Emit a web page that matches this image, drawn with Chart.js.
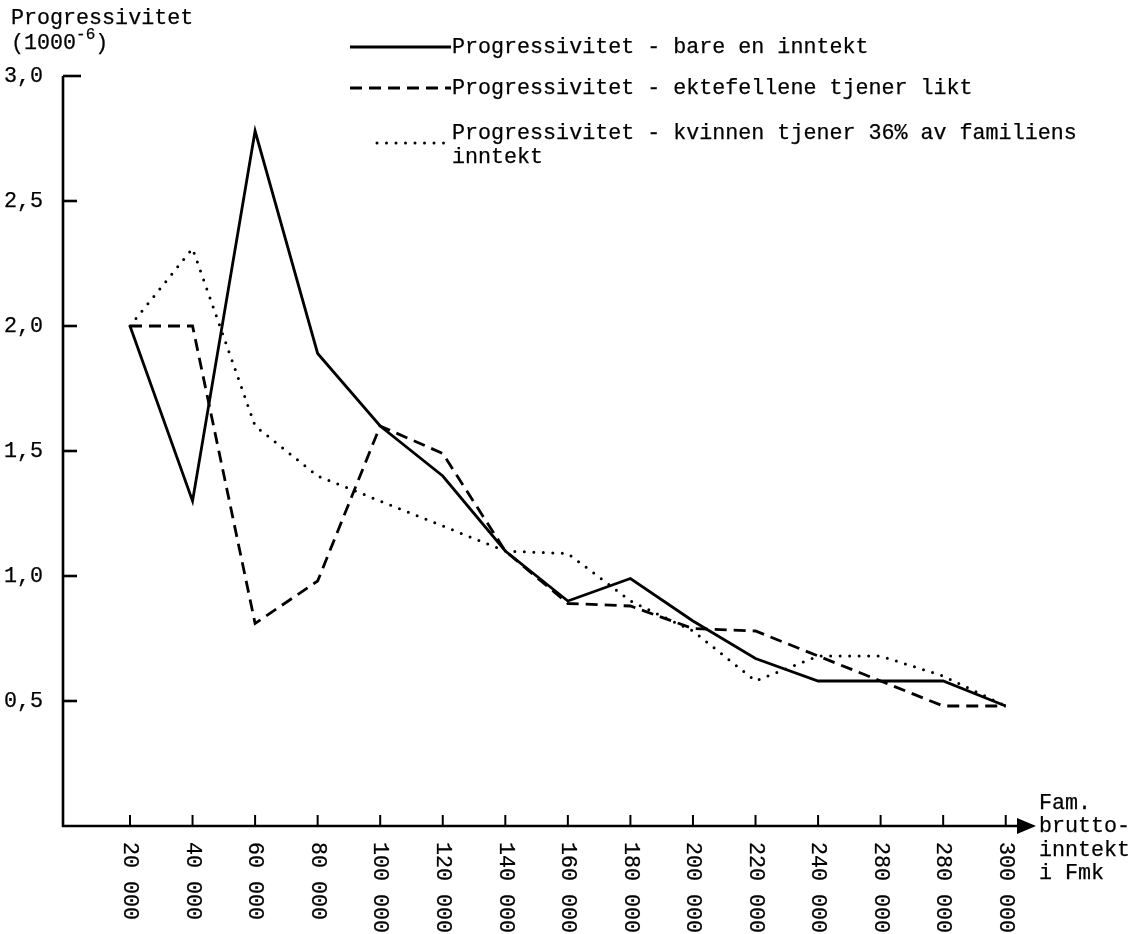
<!DOCTYPE html>
<html>
<head>
<meta charset="utf-8">
<script src="https://cdn.jsdelivr.net/npm/chart.js@4/dist/chart.umd.min.js"></script>
<style>
  html, body { margin: 0; padding: 0; background: #fff; }
  #wrap { width: 1137px; height: 934px; }
</style>
</head>
<body>
<div id="wrap"><canvas id="progChart" width="1137" height="934"></canvas></div>
<script>
// income categories (note: the original prints 280 000 twice)
const incomeLabels = ['20 000', '40 000', '60 000', '80 000', '100 000', '120 000', '140 000',
  '160 000', '180 000', '200 000', '220 000', '240 000', '280 000', '280 000', '300 000'];

// Progressivitet - bare en inntekt
const bareEnInntekt = [2.0, 1.3, 2.78, 1.89, 1.6, 1.4, 1.1, 0.9, 0.99, 0.82, 0.67, 0.58, 0.58, 0.58, 0.48];
// Progressivitet - ektefellene tjener likt
const tjenerLikt = [2.0, 2.0, 0.81, 0.98, 1.6, 1.49, 1.1, 0.89, 0.88, 0.79, 0.78, 0.68, 0.58, 0.48, 0.48];
// Progressivitet - kvinnen tjener 36% av familiens inntekt
const kvinnen36 = [2.0, 2.31, 1.6, 1.4, 1.3, 1.2, 1.1, 1.09, 0.9, 0.78, 0.58, 0.68, 0.68, 0.6, 0.48];

const yTickValues = [0.5, 1.0, 1.5, 2.0, 2.5, 3.0];
const yTickLabels = ['0,5', '1,0', '1,5', '2,0', '2,5', '3,0'];

const legendLines = [
  ['Progressivitet - bare en inntekt'],
  ['Progressivitet - ektefellene tjener likt'],
  ['Progressivitet - kvinnen tjener 36% av familiens', 'inntekt']
];
const xAxisTitle = ['Fam.', 'brutto-', 'inntekt', 'i Fmk'];

const INK = '#000';
const FONT = '21.7px "Liberation Mono", "DejaVu Sans Mono", monospace';

const toPoints = arr => arr.map((v, i) => ({x: i, y: v}));

// typewriter text: fill plus a hairline stroke for a bit more ink
function typeText(ctx, t, x, y) {
  ctx.fillText(t, x, y);
  ctx.strokeText(t, x, y);
}

// axes, ticks, labels and legend, drawn like the typewriter original
const paperAxes = {
  id: 'paperAxes',
  afterDraw(chart) {
    const ctx = chart.ctx;
    const xs = chart.scales.x, ys = chart.scales.y;
    const x0 = xs.left, y0 = ys.getPixelForValue(0);
    const yTop = ys.getPixelForValue(3.0);
    ctx.save();
    ctx.strokeStyle = INK;
    ctx.fillStyle = INK;
    ctx.lineCap = 'butt';

    // axis lines
    ctx.lineWidth = 2.6;
    ctx.beginPath();
    ctx.moveTo(x0, yTop);
    ctx.lineTo(x0, y0);
    ctx.lineTo(xs.right - 16, y0);
    ctx.stroke();
    // arrow head
    ctx.beginPath();
    ctx.moveTo(xs.right - 1, y0);
    ctx.lineTo(xs.right - 20, y0 - 8);
    ctx.lineTo(xs.right - 20, y0 + 8);
    ctx.closePath();
    ctx.fill();

    // y ticks (inward)
    yTickValues.forEach(v => {
      const py = ys.getPixelForValue(v);
      ctx.lineWidth = 2.6;
      ctx.beginPath();
      ctx.moveTo(x0, py);
      ctx.lineTo(x0 + (v === 3.0 ? 18 : 14), py);
      ctx.stroke();
    });
    // x ticks (inward)
    incomeLabels.forEach((lab, i) => {
      const px = xs.getPixelForValue(i);
      ctx.lineWidth = 2;
      ctx.beginPath();
      ctx.moveTo(px, y0);
      ctx.lineTo(px, y0 - 11);
      ctx.stroke();
    });

    ctx.font = FONT;
    ctx.lineWidth = 0.25;
    // y tick labels
    ctx.textAlign = 'right';
    ctx.textBaseline = 'middle';
    yTickValues.forEach((v, i) => typeText(ctx, yTickLabels[i], 43, ys.getPixelForValue(v)));

    // rotated x labels, reading downwards
    incomeLabels.forEach((lab, i) => {
      const px = xs.getPixelForValue(i);
      ctx.save();
      ctx.translate(px, y0 + 16);
      ctx.rotate(Math.PI / 2);
      ctx.textAlign = 'left';
      ctx.textBaseline = 'middle';
      typeText(ctx, lab, 0, 0);
      ctx.restore();
    });

    // x axis title
    ctx.textAlign = 'left';
    ctx.textBaseline = 'middle';
    xAxisTitle.forEach((t, i) => typeText(ctx, t, 1039, 803 + i * 23.5));

    // y axis title
    typeText(ctx, 'Progressivitet', 11, 18);
    typeText(ctx, '(1000', 11, 43);
    const w = ctx.measureText('(1000').width;
    ctx.font = '16px "Liberation Mono", "DejaVu Sans Mono", monospace';
    typeText(ctx, '-6', 11 + w, 35);
    const w2 = ctx.measureText('-6').width;
    ctx.font = FONT;
    typeText(ctx, ')', 11 + w + w2, 43);

    // legend
    const sampleY = [47, 88, 143];
    const textY = [[47], [88], [133, 157]];
    chart.data.datasets.forEach((ds, i) => {
      ctx.save();
      ctx.strokeStyle = INK;
      ctx.lineWidth = ds.borderWidth;
      ctx.lineCap = ds.borderCapStyle || 'butt';
      ctx.setLineDash(ds.borderDash || []);
      ctx.beginPath();
      ctx.moveTo(i === 2 ? 377 : 350, sampleY[i]);
      ctx.lineTo(451, sampleY[i]);
      ctx.stroke();
      ctx.restore();
      legendLines[i].forEach((t, j) => typeText(ctx, t, 452, textY[i][j]));
    });
    ctx.restore();
  }
};

new Chart(document.getElementById('progChart'), {
  type: 'line',
  data: {
    datasets: [
      {
        label: legendLines[0].join(' '),
        data: toPoints(bareEnInntekt),
        borderColor: INK,
        borderWidth: 2.8,
        pointRadius: 0,
        tension: 0
      },
      {
        label: legendLines[1].join(' '),
        data: toPoints(tjenerLikt),
        borderColor: INK,
        borderWidth: 2.8,
        borderDash: [12, 7],
        pointRadius: 0,
        tension: 0
      },
      {
        label: legendLines[2].join(' '),
        data: toPoints(kvinnen36),
        borderColor: INK,
        borderWidth: 3,
        borderDash: [0, 9.5],
        borderCapStyle: 'round',
        pointRadius: 0,
        tension: 0
      }
    ]
  },
  options: {
    responsive: false,
    animation: false,
    devicePixelRatio: 1,
    layout: { padding: { left: 63, top: 76, right: 100, bottom: 108 } },
    plugins: { legend: { display: false }, tooltip: { enabled: false } },
    scales: {
      x: { type: 'linear', display: false, min: -1.071, max: 14.5 },
      y: { type: 'linear', display: false, min: 0, max: 3.0 }
    },
    elements: { line: { borderJoinStyle: 'miter' } }
  },
  plugins: [paperAxes]
});
</script>
</body>
</html>
